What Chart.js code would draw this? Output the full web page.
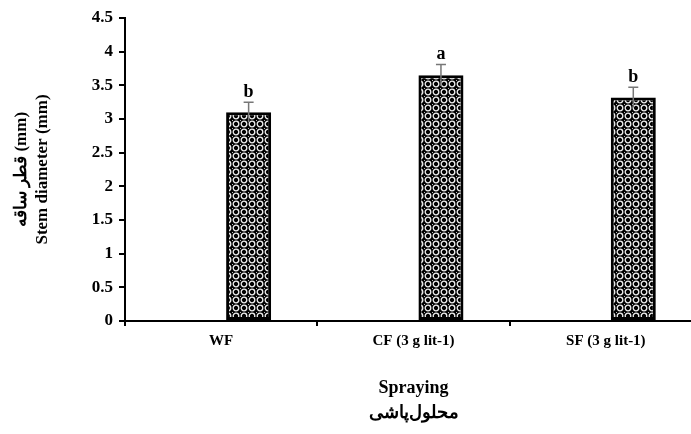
<!DOCTYPE html>
<html>
<head>
<meta charset="utf-8">
<script src="https://cdn.jsdelivr.net/npm/chart.js@4.4.0/dist/chart.umd.min.js"></script>
<style>
  html, body { margin: 0; padding: 0; background: #fff; overflow: hidden; }
  #wrap { width: 710px; height: 434px; }
</style>
</head>
<body>
<div id="wrap"><canvas id="barChart" width="710" height="434"></canvas></div>
<script>
// chart values
const categories = ["WF", "CF (3 g lit-1)", "SF (3 g lit-1)"];
const stemDiameter = [3.1, 3.65, 3.32];
const errors = [0.15, 0.16, 0.15];
const letters = ["b", "a", "b"];
const yTicks = ["0", "0.5", "1", "1.5", "2", "2.5", "3", "3.5", "4", "4.5"];

const serif = "'Liberation Serif', 'Times New Roman', serif";

// checkered dot fill like the original bars
function makePattern() {
    const c = document.createElement('canvas');
    c.width = 8;
    c.height = 8;
    const p = c.getContext('2d');
    p.fillStyle = '#000';
    p.fillRect(0, 0, 8, 8);
    p.strokeStyle = '#eee';
    p.lineWidth = 1.3;
    p.beginPath();
    p.arc(4, 4, 2.8, 0, Math.PI * 2);
    p.stroke();
    p.fillStyle = '#bbb';
    p.fillRect(0, 0, 1, 1);
    return p.createPattern(c, 'repeat');
}

// error bars and significance letters
const errorBarPlugin = {
    id: 'errorBars',
    afterDatasetsDraw(chart) {
        const ctx = chart.ctx;
        const meta = chart.getDatasetMeta(1);
        const y = chart.scales.y;
        ctx.save();
        meta.data.forEach((bar, i) => {
            const top = y.getPixelForValue(stemDiameter[i] + errors[i]);
            const bot = y.getPixelForValue(stemDiameter[i] - errors[i]);
            ctx.strokeStyle = '#777';
            ctx.lineWidth = 1.5;
            ctx.beginPath();
            ctx.moveTo(bar.x, bot);
            ctx.lineTo(bar.x, top);
            ctx.moveTo(bar.x - 5, top);
            ctx.lineTo(bar.x + 5, top);
            ctx.stroke();
            ctx.fillStyle = '#000';
            ctx.font = 'bold 18px ' + serif;
            ctx.textAlign = 'center';
            ctx.textBaseline = 'bottom';
            ctx.fillText(letters[i], bar.x, top - 1);
        });
        ctx.restore();
    }
};

const ctx = document.getElementById('barChart').getContext('2d');
new Chart(ctx, {
    type: 'bar',
    data: {
        labels: categories,
        datasets: [{
            data: categories.map(() => null)
        }, {
            data: stemDiameter,
            backgroundColor: makePattern(),
            borderColor: '#000',
            borderWidth: 3,
            borderSkipped: false
        }]
    },
    options: {
        responsive: false,
        animation: false,
        categoryPercentage: 0.571,
        barPercentage: 0.82,
        layout: {
            padding: { top: 18, right: 8, left: 0, bottom: 0 }
        },
        plugins: {
            legend: { display: false },
            tooltip: { enabled: false }
        },
        scales: {
            x: {
                afterFit(scale) { scale.height = 113; },
                border: { color: '#000', width: 2 },
                grid: {
                    offset: true,
                    drawOnChartArea: false,
                    color: '#000',
                    lineWidth: 2,
                    tickLength: 5
                },
                ticks: {
                    color: '#000',
                    padding: 6,
                    font: { family: serif, size: 15, weight: 'bold' }
                },
                title: {
                    display: true,
                    text: ["Spraying", "محلول‌پاشی"],
                    color: '#000',
                    font: { family: serif, size: 18, weight: 'bold', lineHeight: 1.4 },
                    padding: { top: 0, bottom: 8 }
                }
            },
            y: {
                min: 0,
                max: 4.5,
                afterFit(scale) { scale.width = 125; },
                border: { color: '#000', width: 2 },
                grid: {
                    drawOnChartArea: false,
                    color: '#000',
                    lineWidth: 2,
                    tickLength: 6
                },
                ticks: {
                    stepSize: 0.5,
                    color: '#000',
                    padding: 6,
                    font: { family: serif, size: 17, weight: 'bold' },
                    callback: (v, i) => yTicks[i]
                },
                title: {
                    display: true,
                    text: ["قطر ساقه (mm)", "Stem diameter (mm)"],
                    color: '#000',
                    font: { family: serif, size: 17, weight: 'bold', lineHeight: 1.25 },
                    padding: { top: 11, bottom: 0 }
                }
            }
        }
    },
    plugins: [errorBarPlugin]
});
</script>
</body>
</html>
